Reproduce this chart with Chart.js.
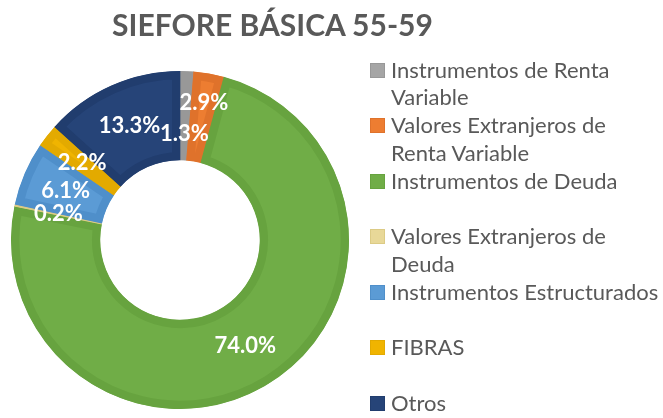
<!DOCTYPE html>
<html>
<head>
<meta charset="utf-8">
<script src="https://cdn.jsdelivr.net/npm/chart.js@4/dist/chart.umd.min.js"></script>
<style>
  body { margin: 0; background: #fff; }
  #wrap { position: relative; width: 663px; height: 418px; overflow: hidden; }
  #chart { position: absolute; left: 0; top: 0; }
  #title {
    position: absolute; left: 0; top: 9px; width: 545px;
    text-align: center; font: bold 30px Lato, sans-serif; line-height: 30px;
    color: #595959; white-space: nowrap;
  }
  #legend { position: absolute; left: 370px; top: 55.6px; }
  .item { position: relative; height: 55.5px; padding-left: 21px; }
  .item span { display: block; font: 22px Lato, sans-serif; line-height: 27.75px; color: #595959; white-space: nowrap; }
  .key { position: absolute; left: 0; top: 7.4px; width: 15px; height: 15px; box-sizing: border-box; }
</style>
</head>
<body>
<div id="wrap">
  <canvas id="chart" width="663" height="418"></canvas>
  <div id="title">SIEFORE BÁSICA 55-59</div>
  <div id="legend"></div>
</div>
<script>
  const categories = [
    ["Instrumentos de Renta", "Variable"],
    ["Valores Extranjeros de", "Renta Variable"],
    ["Instrumentos de Deuda"],
    ["Valores Extranjeros de", "Deuda"],
    ["Instrumentos Estructurados"],
    ["FIBRAS"],
    ["Otros"],
  ];
  const shares = [1.3, 2.9, 74.0, 0.2, 6.1, 2.2, 13.3];

  const fills = ["#a5a5a5", "#ed7d31", "#70ad47", "#e8d898", "#5b9bd5", "#f0b400", "#264478"];
  const edges = ["#989898", "#df722b", "#67a33f", "#dccb85", "#4f8fca", "#e3aa00", "#213d6e"];

  // white % labels in the middle of the ring, two small ones pushed apart
  const pctLabels = {
    id: "pctLabels",
    afterDatasetsDraw(chart, args, opts) {
      const ctx = chart.ctx;
      const meta = chart.getDatasetMeta(0);
      ctx.save();
      ctx.font = opts.font;
      ctx.fillStyle = "#ffffff";
      ctx.textAlign = "center";
      ctx.textBaseline = "middle";
      meta.data.forEach((arc, i) => {
        const p = arc.getProps(["x", "y", "startAngle", "endAngle", "innerRadius", "outerRadius"], true);
        const mid = (p.startAngle + p.endAngle) / 2;
        const r = (p.innerRadius + p.outerRadius) / 2 + (opts.nudge[i] || 0);
        ctx.fillText(chart.data.datasets[0].data[i].toFixed(1) + "%", p.x + Math.cos(mid) * r, p.y + Math.sin(mid) * r);
      });
      ctx.restore();
    },
  };

  const chart = new Chart(document.getElementById("chart"), {
    type: "doughnut",
    data: {
      labels: categories,
      datasets: [
        {
          data: shares,
          backgroundColor: fills,
          borderColor: edges,
          borderWidth: 8,
          borderAlign: "inner",
        },
      ],
    },
    options: {
      responsive: false,
      animation: false,
      radius: 169,
      cutout: 84,
      layout: { padding: { left: 0, right: 303, top: 62, bottom: 0 } },
      plugins: {
        legend: { display: false },
        tooltip: { enabled: false },
        title: { display: false },
        pctLabels: { font: "bold 22px Lato", nudge: [-18, 15, 0, 0, 0, 0, 0] },
      },
    },
    plugins: [pctLabels],
  });

  const legend = document.getElementById("legend");
  chart.data.labels.forEach((lines, i) => {
    const item = document.createElement("div");
    item.className = "item";
    const key = document.createElement("div");
    key.className = "key";
    key.style.background = fills[i];
    key.style.border = "1px solid " + edges[i];
    item.appendChild(key);
    lines.forEach((t) => {
      const s = document.createElement("span");
      s.textContent = t;
      item.appendChild(s);
    });
    legend.appendChild(item);
  });
</script>
</body>
</html>
